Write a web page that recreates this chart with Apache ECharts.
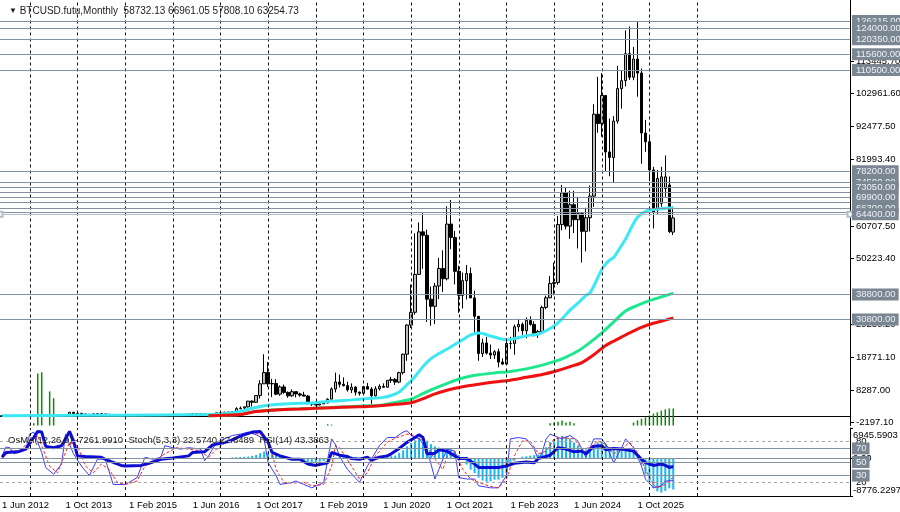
<!DOCTYPE html>
<html><head><meta charset="utf-8">
<script src="https://cdn.jsdelivr.net/npm/echarts@6.0.0/dist/echarts.min.js"></script>
<style>html,body{margin:0;padding:0;background:#fff}#c{width:900px;height:512px}</style>
</head><body><div id="c"></div>
<script>
const MONTHS = ['Jan','Feb','Mar','Apr','May','Jun','Jul','Aug','Sep','Oct','Nov','Dec'];
const startYear = 2012, startMonth = 5, nCats = 214;
const categories = Array.from({length: nCats}, (_, k) => {
  const m = (startMonth + k) % 12, y = startYear + Math.floor((startMonth + k) / 12);
  return '1 ' + MONTHS[m] + ' ' + y;
});
const labelEvery = 16, lastLabel = 160, lastGrid = 175;

// monthly [open, high, low, close]
const ohlc = [
[5.3,6.7,5.2,6.7],[6.7,9.7,6.5,9.4],[9.4,16.4,7.1,10.2],[10.2,12.6,9.9,12.4],[12.4,12.8,10,11.2],[11.2,12.8,10.4,12.6],[12.6,13.6,12.3,13.5],
[13.5,20.4,13.2,20.4],[20.4,33.4,19.1,33.4],[33.4,95,33,93],[93,266,50,139],[139,140,92,128],[128,130,95,97],[97,111,65,106],[106,140,101,140],[140,144,115,133],[133,215,103,204],[204,1242,204,1130],[1130,1240,510,732],
[732,1000,732,815],[815,835,420,573],[573,720,440,457],[457,550,340,447],[447,630,420,630],[630,680,555,640],[640,650,565,586],[586,600,440,480],[480,495,350,388],[388,415,275,338],[338,455,310,378],[378,385,305,320],
[320,320,152,217],[217,265,212,254],[254,299,236,244],[244,262,213,236],[236,248,225,230],[230,268,218,263],[263,318,254,284],[284,285,190,230],[230,245,225,236],[236,336,235,314],[314,500,300,377],[377,470,345,430],
[430,462,350,369],[369,445,362,437],[437,440,392,416],[416,468,414,448],[448,550,444,531],[531,780,527,672],[672,705,600,624],[624,628,480,573],[573,620,568,608],[608,735,605,700],[700,755,685,745],[745,975,740,965],
[965,1160,750,970],[970,1210,920,1190],[1190,1350,890,1080],[1080,1350,1070,1350],[1350,2760,1350,2300],[2300,2980,2080,2480],[2480,2920,1840,2870],[2870,4750,2670,4700],[4700,4980,2970,4340],[4340,6470,4130,6470],[6470,11400,5530,10230],[10230,19700,10200,13850],
[13850,17200,9200,10220],[10220,11800,6000,10320],[10320,11700,6600,6930],[6930,9750,6430,9240],[9240,9990,7040,7500],[7500,7770,5780,6390],[6390,8480,6070,7730],[7730,7750,5880,7010],[7010,7400,6100,6630],[6630,7680,6200,6320],[6320,6600,3650,4040],[4040,4400,3150,3740],
[3740,4100,3390,3460],[3460,4200,3400,3810],[3810,4120,3780,4100],[4100,5630,4090,5320],[5320,9100,5300,8570],[8570,13800,7500,10820],[10820,13200,9080,10080],[10080,12300,9400,9630],[9630,10900,7750,8300],[8300,10370,7300,9150],[9150,9510,6520,7570],[7570,7750,6440,7190],
[7190,9550,6870,9350],[9350,10500,8450,8540],[8540,9190,3850,6420],[6420,9460,6150,8630],[8630,10070,8100,9450],[9450,10380,8930,9140],[9140,11440,8980,11350],[11350,12470,10500,11650],[11650,12070,9880,10780],[10780,14100,10430,13800],[13800,19900,13200,19700],[19700,29300,17600,29000],
[29000,41950,28100,33100],[33100,58350,32300,45200],[45200,61800,45000,58800],[58800,64900,47000,57700],[57700,59500,30000,37300],[37300,41300,28800,35000],[35000,42500,29300,41500],[41500,50500,37300,47100],[47100,52900,39600,43800],[43800,67000,43300,61300],[61300,69000,53250,57000],[57000,59100,42000,46200],
[46200,47990,32950,38500],[38500,45800,34300,43200],[43200,48200,37200,45500],[45500,47400,37600,37700],[37700,40000,26700,31800],[31800,31900,17600,19900],[19900,24650,18800,23300],[23300,25200,19600,20050],[20050,22800,18150,19430],[19430,21000,18200,20500],[20500,21450,15500,17170],[17170,18400,16300,16550],
[16550,23900,16500,23130],[23130,25250,21400,23150],[23150,29200,19550,28480],[28480,31000,26950,29250],[29250,29850,25900,27210],[27210,31400,24800,30480],[30480,31800,28850,29230],[29230,30200,25400,25940],[25940,27500,24900,26970],[26970,35200,26550,34650],[34650,38420,34100,37720],[37720,44700,37600,42280],
[42280,48970,38550,42580],[42580,63900,41880,61130],[61130,73800,59300,71280],[71280,72800,59600,60640],[60640,71950,56550,67490],[67490,71950,58400,62680],[62680,70000,53500,64620],[64620,65100,49000,58970],[58970,66500,52550,63330],[63330,73600,58900,70220],[70220,99600,66800,96400],[96400,108350,90500,93430],
[93430,109600,89200,102400],[102400,102500,78200,84350],[84350,95000,76600,82550],[82550,95800,74600,94200],[94200,111900,93400,104600],[104600,110500,98200,107130],[107130,123200,105300,115760],[115760,124450,107350,108240],[108240,117900,107270,114050],[114050,126200,102000,109560],[109560,111000,80600,90400],[90400,94600,84400,87600],
[87600,89500,75000,78600],[78600,79600,59900,65200],[65800,78600,64500,75900],[67900,79600,66800,76400],[72700,83200,70000,76400],[73800,76500,58400,58900],[58732.13,66961.05,57808.10,63254.73]
];

const volumePts = [[7,2],[8,5],[9,122],[10,125],[12,80],[13,64],[82,3],[83,2],
  [138,5],[139,7],[140,9],[141,12],[142,7],[143,9],[144,5],
  [159,7],[160,12],[161,16],[162,19],[163,24],[164,28],[165,31],[166,35],[167,38],[168,40],[169,40]];

const cyanPts = [[0,20],[20,150],[40,300],[51,400],[55,600],[58,1000],[61,1700],[63,2400],[65,3000],[67,3400],[71,3800],[75,4000],[79,4200],[83,4700],[88,5100],[92,5500],[96,5900],[98,6500],[100,7600],[102,10000],[103,11200],[104,12600],[105,14200],[106,15800],[108,18300],[110,19900],[112,21300],[114,22800],[116,24300],[118,25900],[120,26500],[121,26300],[123,25500],[125,24800],[127,24300],[129,24700],[131,25300],[133,25800],[135,26100],[137,27200],[139,28700],[141,31000],[143,33800],[145,36000],[147,38500],[148,39300],[149,41500],[150,44200],[151,46800],[152,48500],[153,49800],[154,50600],[155,52500],[156,54500],[157,56500],[158,59000],[159,61500],[160,63500],[161,64500],[162,65300],[163,65800],[166,66200],[169,66500]];
const greenPts = [[52,60],[56,180],[60,420],[62,950],[64,1450],[67,1750],[71,2050],[75,2250],[79,2450],[83,2650],[88,2950],[92,3200],[95,3300],[98,4000],[100,4500],[103,5300],[105,6500],[108,8300],[111,9800],[114,11300],[117,12400],[120,13100],[124,13700],[128,14200],[132,15000],[136,16200],[139,17300],[142,18800],[145,20700],[148,23400],[151,26500],[154,30000],[157,33500],[160,35300],[163,36800],[166,38000],[169,39200]];
const redPts = [[52,50],[56,150],[60,400],[62,900],[64,1400],[67,1700],[71,2000],[75,2200],[79,2400],[83,2600],[88,2850],[92,3000],[96,3300],[100,3800],[103,4200],[105,5000],[107,6000],[109,7000],[112,8200],[116,9300],[120,10100],[124,10800],[128,11400],[132,12300],[136,13200],[140,14500],[143,15700],[146,17000],[149,19500],[152,22500],[155,24500],[158,26500],[161,28300],[164,29600],[167,30600],[169,31300]];

const osmaPts = [[58,150],[59,200],[60,250],[61,300],[62,350],[63,500],[64,700],[65,1100],[66,1500],[67,1300],[68,900],[69,700],[70,300],[71,50],[72,-200],[73,-300],[74,-400],[75,-600],[76,-800],[77,-900],[78,-900],[79,-900],[80,-850],[81,-700],[82,-500],[83,-200],[84,100],
[85,300],[86,450],[87,450],[88,350],[89,200],[90,50],[91,-100],[92,-50],[93,100],[94,200],[95,300],[96,400],[97,450],[98,450],[99,600],[100,1200],[101,1800],[102,2700],[103,3500],[104,4100],[105,4700],[106,4600],[107,4000],[108,3200],[109,2700],[110,2400],[111,2100],[112,2000],[113,2100],[114,1400],[115,700],[116,-300],[117,-1500],[118,-2700],[119,-3500],[120,-4500],[121,-5200],[122,-5500],[123,-5400],[124,-5000],[125,-5000],[126,-4600],[127,-3500],[128,-1500],[129,-600],[130,0],[131,300],[132,400],[133,550],[134,650],[135,800],[136,1300],[137,2500],[138,3700],[139,4400],[140,4800],[141,5100],[142,5000],[143,4500],[144,3600],[145,2900],[146,2300],[147,2000],[148,2500],[149,3000],[150,3600],[151,3900],[152,3300],[153,2600],[154,2300],[155,2100],[156,2000],[157,2000],[158,1800],[159,1500],[160,600],[161,-1500],[162,-3800],[163,-5600],[164,-7000],[165,-7700],[166,-8000],[167,-7600],[168,-7000],[169,-7261.991]];

const stochMainPts = [[0,59],[1,72],[2,71],[3,62],[5,66],[6,69],[7,91],[8,94],[10,64],[11,42],[13,32],[15,47],[16,91],[18,62],[20,44],[22,30],[24,54],[26,54],[28,17],[31,17],[32,20],[34,27],[36,57],[38,54],[40,57],[41,74],[43,71],[45,69],[47,71],[50,69],[51,52],[52,59],[54,79],[56,84],[58,89],[60,91],[62,94],[64,90],[66,84],[67,49],[69,30],[70,17],[73,20],[74,22],[76,17],[78,12],[81,20],[82,54],[83,84],[84,75],[85,58],[87,39],[90,20],[92,44],[93,54],[95,74],[97,86],[99,86],[101,94],[102,96],[103,89],[105,84],[107,69],[109,25],[110,39],[112,69],[114,66],[115,27],[117,25],[119,25],[120,15],[123,12],[125,12],[127,30],[128,84],[130,86],[132,84],[134,69],[135,54],[136,64],[137,84],[138,91],[141,84],[143,89],[145,81],[147,57],[149,84],[151,84],[152,76],[154,49],[156,71],[157,84],[159,71],[161,44],[162,25],[164,12],[166,15],[167,22],[169,22.574]];
const stochSignalPts = [[0,57],[2,66],[4,66],[7,79],[9,89],[10,74],[12,44],[14,34],[15,49],[17,79],[19,74],[21,44],[23,34],[25,47],[27,39],[29,20],[31,17],[34,22],[36,44],[39,54],[41,62],[44,71],[47,69],[50,66],[52,57],[54,69],[57,81],[60,89],[63,93],[66,89],[68,64],[69,39],[71,20],[73,19],[76,20],[78,15],[81,17],[83,44],[84,74],[85,71],[88,44],[90,25],[92,34],[94,59],[97,79],[99,85],[102,91],[104,89],[106,81],[109,54],[111,39],[112,57],[114,66],[116,39],[118,25],[120,20],[123,14],[125,12],[127,25],[129,59],[131,81],[133,81],[135,62],[137,66],[139,84],[141,86],[144,84],[146,69],[148,71],[150,81],[152,76],[154,62],[156,69],[158,79],[160,64],[162,39],[164,17],[165,12],[167,17],[169,27.8489]];
const rsiPts = [[0,57],[1,64],[4,65],[6,69],[8,86],[9,95],[10,94],[11,73],[13,71],[15,74],[17,95],[18,81],[19,59],[21,58],[25,57],[26,54],[30,45],[31,44],[35,45],[37,48],[40,54],[43,56],[47,59],[48,64],[51,65],[53,75],[57,80],[60,88],[63,94],[65,95],[67,79],[68,64],[70,59],[73,54],[75,54],[77,47],[79,45],[82,49],[83,64],[85,60],[87,58],[88,55],[90,54],[92,57],[93,53],[95,57],[97,59],[98,62],[100,70],[102,79],[104,86],[105,90],[106,86],[107,62],[109,63],[110,68],[112,66],[114,59],[115,55],[117,55],[119,47],[120,42],[125,42],[127,44],[129,48],[132,50],[134,49],[135,55],[138,60],[140,71],[142,69],[144,65],[146,66],[147,62],[149,73],[151,74],[152,68],[154,70],[156,69],[157,68],[159,66],[161,54],[162,49],[164,45],[166,47],[167,45],[168,42],[169,43.3863]];

const priceTicks = [113445.70, 102961.60, 92477.50, 81993.40, 60707.50, 50223.40, 29239.20, 18771.10, 8287.00, -2197.10];
const levelPrices = [126215, 124000, 120350, 115600, 110500, 78200, 74500, 73050, 69900, 66300, 38800, 30800];
const hiddenLevels = [71600, 68400, 65200];
const selectedLevel = 64400;
const osmaTicks = [6945.5903, 0, -8776.2297];
const oscBoxedLevels = [70, 50, 30];
const oscDashedLevels = [80, 20];
const priceMin = -3091, priceMax = 132912;
const osmaMin = -8776.2297, osmaMax = 6945.5903;
const volMax = 1000;

const FONT = 'Liberation Sans, Arial, sans-serif';
const LEVEL_COLOR = '#8391a0';
const boxLabel = (txt) => ({show:true, position:'end', distance:2, formatter:txt, backgroundColor:'#7b8693', color:'#eef2f6', fontSize:9.5, fontFamily:FONT, padding:[1,3,0,4], lineHeight:11});
const last = ohlc[ohlc.length-1];
const bid = last[3];
const gridCats = categories.filter((c, i) => c.indexOf(' Jan ') === 1 && i <= lastGrid);
const vLines = gridCats.map(c => ({xAxis: c, lineStyle:{color:'#111', type:[3,3], width:1}, label:{show:false}}));

const mainMarks = [].concat(
  vLines,
  [{yAxis: bid, lineStyle:{opacity:0}, label:{show:true, position:'end', distance:2, formatter: bid.toFixed(2), backgroundColor:'#000', color:'#fff', fontSize:9.5, fontFamily:FONT, padding:[1,3,0,4], lineHeight:11}}],
  hiddenLevels.map(v => ({yAxis:v, lineStyle:{color:LEVEL_COLOR, width:1, type:'solid'}, label:{show:false}})),
  levelPrices.map(v => ({yAxis:v, lineStyle:{color:LEVEL_COLOR, width:1, type:'solid'}, label: boxLabel(v.toFixed(2))}))
);

const oscMarks = [].concat(
  vLines,
  oscDashedLevels.map(v => ({yAxis:v, lineStyle:{color:'#a8a8a8', type:[3,3], width:1}, label:{show:true, position:'end', distance:2, formatter:String(v), color:'#000', fontSize:9.5, fontFamily:FONT, padding:[0,0,0,4]}})),
  oscBoxedLevels.map(v => ({yAxis:v, lineStyle:{color:LEVEL_COLOR, type:'solid', width:1}, label: boxLabel(String(v))}))
);

const richBase = {fontSize:9.5, fontFamily:FONT, color:'#000'};
const chart = echarts.init(document.getElementById('c'), null, {renderer:'canvas'});
chart.setOption({
  animation:false,
  backgroundColor:'#ffffff',
  title:[
    {text:'{t|▼} BTCUSD.futu,Monthly  ' + last.map(v => v.toFixed(2)).join(' '), left:4, top:1,
     textStyle:{fontSize:10, fontWeight:'normal', color:'#1a1a1a', fontFamily:FONT, rich:{t:{fontSize:8, color:'#1a1a1a'}}}},
    {text:'OsMA(12,26,9) ' + osmaPts[osmaPts.length-1][1].toFixed(4) + '  Stoch(5,3,3) ' + stochMainPts[stochMainPts.length-1][1].toFixed(4) + ' ' + stochSignalPts[stochSignalPts.length-1][1].toFixed(4) + '  RSI(14) ' + rsiPts[rsiPts.length-1][1].toFixed(4),
     left:3, top:430, textStyle:{fontSize:9.5, fontWeight:'normal', color:'#1a1a1a', fontFamily:FONT}}
  ],
  grid:[
    {left:0, top:0, width:850, height:425.5, containLabel:false, outerBoundsMode:'none'},
    {left:0, top:428, width:850, height:68, containLabel:false, outerBoundsMode:'none'}
  ],
  xAxis:[
    {type:'category', gridIndex:0, data:categories, boundaryGap:true, axisLine:{show:true, lineStyle:{color:'#000'}}, axisTick:{show:false}, axisLabel:{show:false}, splitLine:{show:false}},
    {type:'category', gridIndex:1, data:categories, boundaryGap:true, axisLine:{show:true, lineStyle:{color:'#000'}}, axisTick:{show:false},
     axisLabel:{show:true, interval:(idx) => idx % labelEvery === 0 && idx <= lastLabel, align:'left', color:'#000', fontSize:9.5, fontFamily:FONT, margin:4}, splitLine:{show:false}},
    {type:'category', gridIndex:1, position:'top', data:categories, boundaryGap:true, axisLine:{show:true, lineStyle:{color:'#000'}}, axisTick:{show:false}, axisLabel:{show:false}, splitLine:{show:false}}
  ],
  yAxis:[
    {type:'value', gridIndex:0, position:'right', min:priceMin, max:priceMax,
     axisLine:{show:true, lineStyle:{color:'#000'}},
     axisTick:{show:true, customValues:priceTicks, length:4, lineStyle:{color:'#000'}},
     axisLabel:{show:true, customValues:priceTicks, formatter:(v) => Number(v).toFixed(2), color:'#000', fontSize:9.5, fontFamily:FONT, margin:6},
     splitLine:{show:false}},
    {type:'value', gridIndex:0, min:0, max:volMax, show:false},
    {type:'value', gridIndex:1, min:0, max:100, show:false},
    {type:'value', gridIndex:1, position:'right', min:osmaMin, max:osmaMax,
     axisLine:{show:true, lineStyle:{color:'#000'}},
     axisTick:{show:true, customValues:osmaTicks, length:3, lineStyle:{color:'#000'}},
     axisLabel:{show:true, customValues:osmaTicks, color:'#000', fontSize:9.5, fontFamily:FONT, margin:3,
       formatter:(v) => {
         const n = Number(v);
         if (n === 0) return '{z|0.00}';
         return n > 0 ? '{mx|' + n.toFixed(4) + '}' : '{mn|' + n.toFixed(4) + '}';
       },
       rich:{z:Object.assign({}, richBase), mx:Object.assign({padding:[14,0,0,0]}, richBase), mn:Object.assign({padding:[0,0,12,0]}, richBase)}},
     splitLine:{show:false}}
  ],
  series:[
    {type:'bar', name:'Volume', xAxisIndex:0, yAxisIndex:1, data:volumePts, barWidth:1.5, itemStyle:{color:'#0a8a0a'}, z:1},
    {type:'candlestick', name:'BTCUSD', xAxisIndex:0, yAxisIndex:0, barWidth:3,
     data: ohlc.map(r => [r[0], r[3], r[2], r[1]]),
     itemStyle:{color:'#bdbdbd', color0:'#000', borderColor:'#000', borderColor0:'#000', borderWidth:1},
     markLine:{silent:true, symbol:'none', animation:false, precision:2, data: mainMarks}, z:2},
    {type:'line', name:'MA1', xAxisIndex:0, yAxisIndex:0, data:cyanPts, symbol:'none', smooth:0.3, lineStyle:{color:'#3ce8f4', width:3}, z:3,
     markLine:{silent:true, symbol:['emptyRect','emptyRect'], symbolSize:5, animation:false,
       data:[{yAxis:selectedLevel, lineStyle:{color:'#b4bcc6', width:1, type:'solid'}, label: boxLabel(selectedLevel.toFixed(2))}]}},
    {type:'line', name:'MA2', xAxisIndex:0, yAxisIndex:0, data:greenPts, symbol:'none', smooth:0.3, lineStyle:{color:'#1ee88e', width:3}, z:3},
    {type:'line', name:'MA3', xAxisIndex:0, yAxisIndex:0, data:redPts, symbol:'none', smooth:0.3, lineStyle:{color:'#f01010', width:3}, z:3},
    {type:'bar', name:'OsMA', xAxisIndex:1, yAxisIndex:3, data:osmaPts, barWidth:2, itemStyle:{color:'#18b6f0'}, z:1,
     markLine:{silent:true, symbol:'none', animation:false, data:[{yAxis:0, lineStyle:{color:LEVEL_COLOR, width:1, type:'solid'}, label:{show:false}}]}},
    {type:'line', name:'StochMain', xAxisIndex:1, yAxisIndex:2, data:stochMainPts, symbol:'none', lineStyle:{color:'#3c3cff', width:1}, z:2},
    {type:'line', name:'StochSignal', xAxisIndex:1, yAxisIndex:2, data:stochSignalPts, symbol:'none', lineStyle:{color:'#ff2020', width:1, type:[3,2]}, z:2},
    {type:'line', name:'RSI', xAxisIndex:1, yAxisIndex:2, data:rsiPts, symbol:'none', lineStyle:{color:'#0c0cd2', width:3}, z:3,
     markLine:{silent:true, symbol:'none', animation:false, data: oscMarks}}
  ]
});
</script>
</body></html>
